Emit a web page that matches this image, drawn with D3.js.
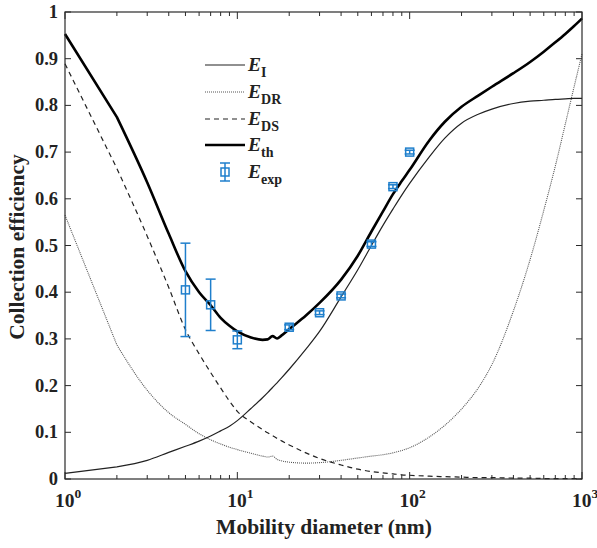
<!DOCTYPE html>
<html>
<head>
<meta charset="utf-8">
<script src="https://cdn.jsdelivr.net/npm/d3@7/dist/d3.min.js"></script>
<style>
  html, body { margin: 0; padding: 0; background: #fff; }
  svg { display: block; }
  text { font-family: "Liberation Serif", "Times New Roman", serif; font-weight: bold; fill: #222; }
</style>
</head>
<body>
<svg id="chart" width="597" height="548"></svg>
<script>
// Particle diameters (nm) at which the efficiencies are evaluated
const diameters = [1,2,3,4,5,6,7,8,9,10,12,14,15,16,17,18,20,25,30,40,50,60,70,80,90,100,130,160,200,250,300,400,500,600,700,800,900,1000];

// Impaction efficiency
const eImpaction = [0.012,0.026,0.04,0.057,0.07,0.081,0.092,0.103,0.113,0.125,0.151,0.174,0.185,0.196,0.206,0.216,0.235,0.278,0.316,0.39,0.448,0.5,0.543,0.578,0.608,0.633,0.69,0.73,0.762,0.781,0.792,0.804,0.809,0.811,0.813,0.814,0.815,0.815];

// Dielectrophoretic efficiency
const eDR = [0.565,0.287,0.19,0.142,0.117,0.097,0.084,0.075,0.068,0.063,0.055,0.049,0.047,0.049,0.042,0.039,0.036,0.034,0.035,0.04,0.045,0.049,0.052,0.056,0.061,0.067,0.09,0.115,0.15,0.195,0.245,0.36,0.47,0.575,0.67,0.76,0.84,0.91];

// Diffusion efficiency
const eDS = [0.889,0.665,0.52,0.41,0.32,0.268,0.228,0.195,0.167,0.145,0.122,0.106,0.099,0.093,0.087,0.082,0.073,0.056,0.044,0.03,0.021,0.016,0.013,0.011,0.009,0.008,0.006,0.005,0.004,0.003,0.003,0.002,0.002,0.001,0.001,0.001,0.001,0.001];

// Total theoretical efficiency
const eTheory = [0.953,0.775,0.635,0.525,0.445,0.4,0.372,0.345,0.328,0.316,0.303,0.298,0.299,0.306,0.301,0.307,0.321,0.35,0.377,0.427,0.478,0.53,0.573,0.61,0.638,0.662,0.725,0.765,0.797,0.821,0.84,0.869,0.893,0.915,0.935,0.953,0.97,0.986];

// Measured efficiency with error bars
const expDiameters = [5,7,10,20,30,40,60,80,100];
const expValues = [0.405,0.373,0.298,0.325,0.356,0.392,0.503,0.626,0.70];
const expErrors = [0.1,0.055,0.019,0.005,0.004,0.004,0.005,0.004,0.004];

const yTicks = [0,0.1,0.2,0.3,0.4,0.5,0.6,0.7,0.8,0.9,1];
const xTickExponents = [0,1,2,3];

const svg = d3.select("#chart");
const plotLeft = 65, plotRight = 582, plotTop = 12, plotBottom = 479;

const x = d3.scaleLog().domain([1, 1000]).range([plotLeft, plotRight]);
const y = d3.scaleLinear().domain([0, 1]).range([plotBottom, plotTop]);

const frameColor = "#2a2a2a";
const blue = "#1f7fcc";

// Tick marks (inward) on all four sides
const tickG = svg.append("g").attr("stroke", frameColor).attr("stroke-width", 1);
yTicks.forEach(t => {
  tickG.append("line").attr("x1", plotLeft).attr("x2", plotLeft + 6).attr("y1", y(t)).attr("y2", y(t));
  tickG.append("line").attr("x1", plotRight).attr("x2", plotRight - 6).attr("y1", y(t)).attr("y2", y(t));
});
const minorX = [];
for (let e = 0; e < 3; e++) for (let m = 2; m <= 9; m++) minorX.push(m * Math.pow(10, e));
xTickExponents.forEach(e => {
  const v = Math.pow(10, e);
  tickG.append("line").attr("x1", x(v)).attr("x2", x(v)).attr("y1", plotBottom).attr("y2", plotBottom - 7);
  tickG.append("line").attr("x1", x(v)).attr("x2", x(v)).attr("y1", plotTop).attr("y2", plotTop + 7);
});
minorX.forEach(v => {
  tickG.append("line").attr("x1", x(v)).attr("x2", x(v)).attr("y1", plotBottom).attr("y2", plotBottom - 4);
  tickG.append("line").attr("x1", x(v)).attr("x2", x(v)).attr("y1", plotTop).attr("y2", plotTop + 4);
});

// Curves: straight segment from 1 to 2 nm, smooth from 2 nm onward
const smooth = d3.line().x(p => x(p[0])).y(p => y(p[1])).curve(d3.curveMonotoneX);
const line = vals => {
  const pts = diameters.map((d, i) => [d, vals[i]]);
  const rest = smooth(pts.slice(1));
  return `M${x(pts[0][0])},${y(pts[0][1])}L` + rest.slice(1);
};

const plot = svg.append("g");
plot.append("path").attr("d", line(eDR)).attr("fill", "none")
  .attr("stroke", "#555").attr("stroke-width", 1.1).attr("stroke-dasharray", "1,1");
plot.append("path").attr("d", line(eDS)).attr("fill", "none")
  .attr("stroke", "#222").attr("stroke-width", 1.2).attr("stroke-dasharray", "5,4");
plot.append("path").attr("d", line(eImpaction)).attr("fill", "none")
  .attr("stroke", "#222").attr("stroke-width", 1.2);
plot.append("path").attr("d", line(eTheory)).attr("fill", "none")
  .attr("stroke", "#000").attr("stroke-width", 2.6).attr("stroke-linejoin", "round");

// Experimental points
function errorMarker(g, cx, cy, yTop, yBot) {
  g.append("line").attr("x1", cx).attr("x2", cx).attr("y1", yTop).attr("y2", yBot);
  g.append("line").attr("x1", cx - 5).attr("x2", cx + 5).attr("y1", yTop).attr("y2", yTop);
  g.append("line").attr("x1", cx - 5).attr("x2", cx + 5).attr("y1", yBot).attr("y2", yBot);
  g.append("rect").attr("x", cx - 4).attr("y", cy - 4).attr("width", 8).attr("height", 8).attr("fill", "none");
}
const expG = svg.append("g").attr("stroke", blue).attr("stroke-width", 1.5).attr("fill", "none");
expDiameters.forEach((d, i) => {
  errorMarker(expG, x(d), y(expValues[i]), y(expValues[i] + expErrors[i]), y(expValues[i] - expErrors[i]));
});

// Frame
svg.append("rect").attr("x", plotLeft).attr("y", plotTop).attr("width", plotRight - plotLeft).attr("height", plotBottom - plotTop)
  .attr("fill", "none").attr("stroke", frameColor).attr("stroke-width", 1.2);

// Tick labels
yTicks.forEach(t => {
  svg.append("text").attr("x", 58).attr("y", y(t) + 6).attr("text-anchor", "end")
    .attr("font-size", 18.5).text(d3.format("")(t));
});
xTickExponents.forEach(e => {
  const tx = svg.append("text").attr("x", x(Math.pow(10, e)) + 3).attr("y", 507)
    .attr("text-anchor", "middle").attr("font-size", 19.5);
  tx.append("tspan").text("10");
  tx.append("tspan").attr("font-size", 13.5).attr("dy", -9).text(e);
});

// Axis titles
svg.append("text").attr("x", 324).attr("y", 534).attr("text-anchor", "middle")
  .attr("font-size", 21.5).text("Mobility diameter (nm)");
svg.append("text").attr("transform", "translate(24,247) rotate(-90)").attr("text-anchor", "middle")
  .attr("font-size", 21.5).text("Collection efficiency");

// Legend
const legendRows = [
  { sub: "I", type: "solid" },
  { sub: "DR", type: "dotted" },
  { sub: "DS", type: "dashed" },
  { sub: "th", type: "thick" },
  { sub: "exp", type: "marker" }
];
const legendY = [65, 92, 119, 145, 172];
const lg = svg.append("g");
legendRows.forEach((r, i) => {
  const ly = legendY[i];
  if (r.type === "marker") {
    const mg = lg.append("g").attr("stroke", blue).attr("stroke-width", 1.5).attr("fill", "none");
    errorMarker(mg, 225, ly, ly - 9, ly + 9);
  } else {
    const l = lg.append("line").attr("x1", 205).attr("x2", 245).attr("y1", ly).attr("y2", ly).attr("fill", "none");
    if (r.type === "solid") l.attr("stroke", "#222").attr("stroke-width", 1.2);
    if (r.type === "dotted") l.attr("stroke", "#555").attr("stroke-width", 1.1).attr("stroke-dasharray", "1,1");
    if (r.type === "dashed") l.attr("stroke", "#222").attr("stroke-width", 1.2).attr("stroke-dasharray", "5,4");
    if (r.type === "thick") l.attr("stroke", "#000").attr("stroke-width", 2.6);
  }
  const t = lg.append("text").attr("x", 248).attr("y", ly + 6).attr("font-size", 19.5);
  t.append("tspan").attr("font-style", "italic").text("E");
  t.append("tspan").attr("font-size", 14).attr("dy", 6).text(r.sub);
});
</script>
</body>
</html>
